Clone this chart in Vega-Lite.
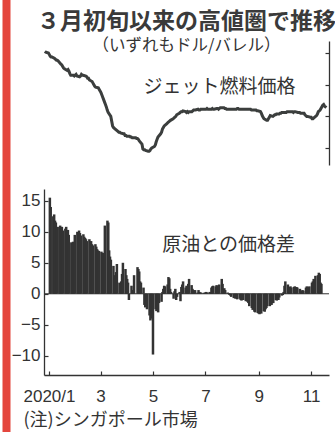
{
  "$schema": "https://vega.github.io/schema/vega-lite/v6.json",
  "background": "white",
  "padding": {"left": 2, "top": 0, "right": 0, "bottom": 0},
  "config": {
    "view": {"stroke": null},
    "axis": {"grid": false, "domainColor": "#333", "tickColor": "#333", "labelColor": "#333", "labelFont": "Liberation Sans", "labelFontSize": 17, "domainWidth": 1.3, "tickWidth": 1.2, "labelOverlap": false},
    "title": {"font": "Noto Sans CJK JP", "color": "#3a3a3a"}
  },
  "data": {"values": [
    {"d":"2020-01-02","j":81,"s":15.5},{"d":"2020-01-03","j":80.5,"s":14},
    {"d":"2020-01-06","j":80,"s":12.5},{"d":"2020-01-07","j":79,"s":12.8},{"d":"2020-01-08","j":78,"s":11.8},{"d":"2020-01-09","j":77.5,"s":11.5},{"d":"2020-01-10","j":77.5,"s":10.8},
    {"d":"2020-01-13","j":76.5,"s":10.8},{"d":"2020-01-14","j":76,"s":11},{"d":"2020-01-15","j":75.5,"s":10.5},{"d":"2020-01-16","j":75.5,"s":10.8},{"d":"2020-01-17","j":75,"s":10.2},
    {"d":"2020-01-20","j":73,"s":10.5},{"d":"2020-01-21","j":72.5,"s":10.8},{"d":"2020-01-22","j":71.5,"s":10},{"d":"2020-01-23","j":70.5,"s":10.3},{"d":"2020-01-24","j":70,"s":9.5},
    {"d":"2020-01-27","j":69,"s":8.3},{"d":"2020-01-28","j":69.5,"s":8},{"d":"2020-01-29","j":68.5,"s":8.4},{"d":"2020-01-30","j":67,"s":8.2},{"d":"2020-01-31","j":66,"s":9.5},
    {"d":"2020-02-03","j":66,"s":10},{"d":"2020-02-04","j":65.5,"s":9.6},{"d":"2020-02-05","j":66,"s":10.2},{"d":"2020-02-06","j":66.5,"s":9.8},{"d":"2020-02-07","j":65.5,"s":9.4},
    {"d":"2020-02-10","j":65,"s":9.6},{"d":"2020-02-11","j":65.5,"s":9.2},{"d":"2020-02-12","j":66.5,"s":9},{"d":"2020-02-13","j":66,"s":8.8},{"d":"2020-02-14","j":66,"s":8.5},
    {"d":"2020-02-17","j":65.5,"s":8.8},{"d":"2020-02-18","j":65,"s":8.3},{"d":"2020-02-19","j":64,"s":8.5},{"d":"2020-02-20","j":64,"s":8},{"d":"2020-02-21","j":63,"s":7.8},
    {"d":"2020-02-24","j":62,"s":8},{"d":"2020-02-25","j":61,"s":7.6},{"d":"2020-02-26","j":60,"s":7.2},{"d":"2020-02-27","j":59,"s":7},{"d":"2020-02-28","j":58.5,"s":6.9},
    {"d":"2020-03-02","j":58,"s":6.8},{"d":"2020-03-03","j":57,"s":6.6},{"d":"2020-03-04","j":56,"s":6.5},{"d":"2020-03-05","j":55,"s":6.6},{"d":"2020-03-06","j":53.5,"s":11},
    {"d":"2020-03-09","j":49,"s":11.8},{"d":"2020-03-10","j":47.5,"s":11.5},{"d":"2020-03-11","j":46,"s":7},{"d":"2020-03-12","j":44,"s":6},{"d":"2020-03-13","j":42.5,"s":5.5},
    {"d":"2020-03-16","j":40,"s":4.5},{"d":"2020-03-17","j":37,"s":3},{"d":"2020-03-18","j":34,"s":2.5},{"d":"2020-03-19","j":33,"s":3.5},{"d":"2020-03-20","j":32.5,"s":4.8},
    {"d":"2020-03-23","j":31,"s":1.8},{"d":"2020-03-24","j":30.5,"s":1.5},{"d":"2020-03-25","j":30,"s":2},{"d":"2020-03-26","j":30,"s":3.2},{"d":"2020-03-27","j":29.5,"s":5},
    {"d":"2020-03-30","j":29,"s":4},{"d":"2020-03-31","j":29,"s":3},
    {"d":"2020-04-01","j":28,"s":2.4},{"d":"2020-04-02","j":28,"s":1.8},{"d":"2020-04-03","j":27.5,"s":-1},
    {"d":"2020-04-06","j":27.5,"s":1.3},{"d":"2020-04-07","j":27,"s":0.6},{"d":"2020-04-08","j":27,"s":0.5},{"d":"2020-04-09","j":26.5,"s":3},
    {"d":"2020-04-13","j":26.5,"s":4.3},{"d":"2020-04-14","j":26,"s":4},{"d":"2020-04-15","j":26,"s":3.6},{"d":"2020-04-16","j":25.5,"s":2},{"d":"2020-04-17","j":24.5,"s":1.8},
    {"d":"2020-04-20","j":22.5,"s":1},{"d":"2020-04-21","j":19.5,"s":-1.8},{"d":"2020-04-22","j":19,"s":-2.2},{"d":"2020-04-23","j":19,"s":-2},{"d":"2020-04-24","j":18.5,"s":-2.5},
    {"d":"2020-04-27","j":18,"s":-3.5},{"d":"2020-04-28","j":18,"s":-4.3},{"d":"2020-04-29","j":18.5,"s":-3.8},{"d":"2020-04-30","j":19.5,"s":-4},{"d":"2020-05-01","j":20,"s":-9.8},
    {"d":"2020-05-04","j":21,"s":-2.5},{"d":"2020-05-05","j":22,"s":-2.8},{"d":"2020-05-06","j":24,"s":-2},{"d":"2020-05-07","j":25.5,"s":-3},{"d":"2020-05-08","j":27,"s":-1.5},
    {"d":"2020-05-11","j":29,"s":-1.3},{"d":"2020-05-12","j":30,"s":0.3},{"d":"2020-05-13","j":32,"s":0.8},{"d":"2020-05-14","j":33,"s":1.3},{"d":"2020-05-15","j":34,"s":1.2},
    {"d":"2020-05-18","j":35.5,"s":1.5},{"d":"2020-05-19","j":36,"s":2.7},{"d":"2020-05-20","j":36.5,"s":2.5},{"d":"2020-05-21","j":37,"s":0.8},{"d":"2020-05-22","j":37.5,"s":0.3},
    {"d":"2020-05-25","j":38.5,"s":-0.8},{"d":"2020-05-26","j":39,"s":0.4},{"d":"2020-05-27","j":39.5,"s":0.8},{"d":"2020-05-28","j":40,"s":-1},{"d":"2020-05-29","j":41,"s":-0.5},
    {"d":"2020-06-01","j":42,"s":0.3},{"d":"2020-06-02","j":42.5,"s":-1.2},{"d":"2020-06-03","j":43,"s":1.1},{"d":"2020-06-04","j":43,"s":1.5},{"d":"2020-06-05","j":43.5,"s":2},
    {"d":"2020-06-08","j":43,"s":1},{"d":"2020-06-09","j":42.5,"s":1.3},{"d":"2020-06-10","j":43,"s":1.2},{"d":"2020-06-11","j":42.5,"s":1.6},{"d":"2020-06-12","j":43,"s":2.4},
    {"d":"2020-06-15","j":43,"s":1.4},{"d":"2020-06-16","j":43.5,"s":0.8},{"d":"2020-06-17","j":44,"s":0.6},{"d":"2020-06-18","j":44,"s":0.3},{"d":"2020-06-19","j":44,"s":0.6},
    {"d":"2020-06-22","j":44.5,"s":0.2},{"d":"2020-06-23","j":44,"s":0.6},{"d":"2020-06-24","j":44,"s":0.3},{"d":"2020-06-25","j":44.5,"s":0.2},{"d":"2020-06-26","j":44.5,"s":0.2},
    {"d":"2020-06-29","j":44.5,"s":0.1},{"d":"2020-06-30","j":44.5,"s":0.2},
    {"d":"2020-07-01","j":44.5,"s":0.2},{"d":"2020-07-02","j":45,"s":0.3},{"d":"2020-07-03","j":44.5,"s":0.2},
    {"d":"2020-07-06","j":44.5,"s":0.3},{"d":"2020-07-07","j":44.5,"s":0.2},{"d":"2020-07-08","j":45,"s":1},{"d":"2020-07-09","j":44.5,"s":1.2},{"d":"2020-07-10","j":44.5,"s":1.3},
    {"d":"2020-07-13","j":45,"s":1.2},{"d":"2020-07-14","j":45,"s":1.4},{"d":"2020-07-15","j":44.5,"s":1.1},{"d":"2020-07-16","j":45,"s":1.3},{"d":"2020-07-17","j":45.5,"s":1.5},
    {"d":"2020-07-20","j":45.5,"s":2.4},{"d":"2020-07-21","j":45.5,"s":1.6},{"d":"2020-07-22","j":45,"s":0.8},{"d":"2020-07-23","j":45,"s":0.9},{"d":"2020-07-24","j":44.5,"s":0.6},
    {"d":"2020-07-27","j":44.5,"s":0.2},{"d":"2020-07-28","j":44.5,"s":0.1},{"d":"2020-07-29","j":44.5,"s":-0.2},{"d":"2020-07-30","j":44.5,"s":-0.3},{"d":"2020-07-31","j":44.5,"s":-0.5},
    {"d":"2020-08-03","j":44.5,"s":-0.7},{"d":"2020-08-04","j":44.5,"s":-0.6},{"d":"2020-08-05","j":45,"s":-0.8},{"d":"2020-08-06","j":45,"s":-0.7},{"d":"2020-08-07","j":44.5,"s":-0.9},
    {"d":"2020-08-10","j":44.5,"s":-0.8},{"d":"2020-08-11","j":44.5,"s":-1},{"d":"2020-08-12","j":44.5,"s":-1.1},{"d":"2020-08-13","j":44.5,"s":-0.9},{"d":"2020-08-14","j":44.5,"s":-1},
    {"d":"2020-08-17","j":44.5,"s":-1.2},{"d":"2020-08-18","j":44.5,"s":-1},{"d":"2020-08-19","j":44.5,"s":-1.3},{"d":"2020-08-20","j":44.5,"s":-1.5},{"d":"2020-08-21","j":44,"s":-2},
    {"d":"2020-08-24","j":44,"s":-2.3},{"d":"2020-08-25","j":44,"s":-2.6},{"d":"2020-08-26","j":44,"s":-2.5},{"d":"2020-08-27","j":43.5,"s":-2.9},{"d":"2020-08-28","j":43.5,"s":-3},
    {"d":"2020-08-31","j":43,"s":-3.1},
    {"d":"2020-09-01","j":42,"s":-3.2},{"d":"2020-09-02","j":40.5,"s":-3.3},{"d":"2020-09-03","j":39.5,"s":-3},{"d":"2020-09-04","j":38.5,"s":-3.2},
    {"d":"2020-09-07","j":37.5,"s":-2.8},{"d":"2020-09-08","j":37.5,"s":-2.9},{"d":"2020-09-09","j":38.5,"s":-2.5},{"d":"2020-09-10","j":39.5,"s":-2.3},{"d":"2020-09-11","j":40.5,"s":-2},
    {"d":"2020-09-14","j":40,"s":-2},{"d":"2020-09-15","j":40.5,"s":-1.6},{"d":"2020-09-16","j":41,"s":-1.8},{"d":"2020-09-17","j":41,"s":-1.5},{"d":"2020-09-18","j":41.5,"s":-1.5},
    {"d":"2020-09-21","j":41.5,"s":-1},{"d":"2020-09-22","j":42,"s":-1.1},{"d":"2020-09-23","j":42,"s":-0.9},{"d":"2020-09-24","j":42.5,"s":-1},{"d":"2020-09-25","j":42.5,"s":-0.6},
    {"d":"2020-09-28","j":42.5,"s":-0.3},{"d":"2020-09-29","j":42.5,"s":-0.2},{"d":"2020-09-30","j":43,"s":0.3},
    {"d":"2020-10-01","j":43,"s":1.3},{"d":"2020-10-02","j":43,"s":2},
    {"d":"2020-10-05","j":43,"s":1.5},{"d":"2020-10-06","j":43,"s":1},{"d":"2020-10-07","j":42.5,"s":1.1},{"d":"2020-10-08","j":43,"s":1.2},{"d":"2020-10-09","j":43,"s":1},
    {"d":"2020-10-12","j":42.5,"s":1.1},{"d":"2020-10-13","j":42.5,"s":1.2},{"d":"2020-10-14","j":42.5,"s":1},{"d":"2020-10-15","j":42,"s":1.1},{"d":"2020-10-16","j":42,"s":1},
    {"d":"2020-10-19","j":42,"s":0.8},{"d":"2020-10-20","j":41,"s":0.5},{"d":"2020-10-21","j":40.5,"s":0.4},{"d":"2020-10-22","j":40,"s":0.6},{"d":"2020-10-23","j":40,"s":0.5},
    {"d":"2020-10-26","j":39.5,"s":1},{"d":"2020-10-27","j":39.5,"s":1.2},{"d":"2020-10-28","j":38.5,"s":1.1},{"d":"2020-10-29","j":38.5,"s":0.9},{"d":"2020-10-30","j":39,"s":1.2},
    {"d":"2020-11-02","j":40.5,"s":1.8},{"d":"2020-11-03","j":41.5,"s":2},{"d":"2020-11-04","j":43,"s":2.4},{"d":"2020-11-05","j":43.5,"s":2.2},{"d":"2020-11-06","j":44,"s":2.9},
    {"d":"2020-11-09","j":47,"s":3},{"d":"2020-11-10","j":47.5,"s":3.4},{"d":"2020-11-11","j":46.5,"s":3.2},{"d":"2020-11-12","j":46,"s":1.8},{"d":"2020-11-13","j":45.5,"s":1.6}
  ]},
  "spacing": 1,
  "hconcat": [
    {
      "width": 8, "height": 389,
      "data": {"values": [{"v": 0.5}]},
      "mark": {"type": "rule", "opacity": 0},
      "encoding": {
        "y": {"field": "v", "type": "quantitative",
          "scale": {"domain": [0, 1], "range": [420, -43], "nice": false, "zero": false},
          "axis": {"orient": "left", "offset": -4, "domainColor": "#e4463d", "domainWidth": 8, "domainCap": "butt", "ticks": false, "labels": false, "title": null}}
      }
    },
    {
      "spacing": 24,
      "vconcat": [
        {
          "width": 285, "height": 124,
          "title": {
            "text": ["", "３月初旬以来の高値圏で推移"],
            "lineHeight": 10,
            "subtitle": "（いずれもドル/バレル）",
            "anchor": "middle", "frame": "group",
            "fontSize": 23, "fontWeight": "bold",
            "subtitleFont": "Noto Sans CJK JP", "subtitleFontSize": 16.5, "subtitleColor": "#333",
            "subtitlePadding": 4, "offset": -13
          },
          "layer": [
            {
              "mark": {"type": "line", "color": "#3b3e3d", "strokeWidth": 3},
              "encoding": {
                "x": {"field": "d", "type": "temporal", "scale": {"domain": [{"year": 2020, "month": 1, "date": 1}, {"year": 2020, "month": 11, "date": 16}]}, "axis": null},
                "y": {"field": "j", "type": "quantitative", "scale": {"domain": [9.3, 87.6], "nice": false, "zero": false},
                  "axis": {"orient": "right", "values": [20, 40, 60, 80], "tickCount": 4, "labels": false, "title": null, "tickSize": -4}}
              }
            },
            {
              "data": {"values": [{}]},
              "mark": {"type": "text", "text": "ジェット燃料価格", "font": "Noto Sans CJK JP", "fontSize": 19, "color": "#333"},
              "encoding": {
                "x": {"datum": {"year": 2020, "month": 7, "date": 16}, "type": "temporal", "axis": null},
                "y": {"datum": 58.5, "type": "quantitative", "axis": {"orient": "right", "values": [20, 40, 60, 80], "tickCount": 4, "labels": false, "title": null, "tickSize": -4}}
              }
            }
          ]
        },
        {
          "width": 285, "height": 186,
          "layer": [
            {
              "mark": {"type": "bar", "color": "#333", "size": 2.5},
              "encoding": {
                "x": {"field": "d", "type": "temporal", "scale": {"domain": [{"year": 2020, "month": 1, "date": 1}, {"year": 2020, "month": 11, "date": 16}]},
                  "axis": {"values": [{"year": 2020, "month": 1, "date": 1}, {"year": 2020, "month": 3, "date": 1}, {"year": 2020, "month": 5, "date": 1}, {"year": 2020, "month": 7, "date": 1}, {"year": 2020, "month": 9, "date": 1}, {"year": 2020, "month": 11, "date": 1}],
                    "labelExpr": "month(datum.value) == 0 ? '2020/1' : '' + (month(datum.value) + 1)",
                    "tickSize": -4, "labelPadding": 17,
                    "title": "(注)シンガポール市場", "titleFont": "Noto Sans CJK JP", "titleFontSize": 18, "titleFontWeight": "normal", "titleColor": "#333",
                    "titleAnchor": "start", "titleAlign": "left", "titleBaseline": "middle", "titleX": -21, "titleY": 45}},
                "y": {"field": "s", "type": "quantitative", "scale": {"domain": [-13.1, 16.9], "nice": false, "zero": false},
                  "axis": {"values": [-10, -5, 0, 5, 10, 15], "tickCount": 7, "labelOverlap": false, "title": null, "tickSize": -4, "labelPadding": 8}}
              }
            },
            {
              "data": {"values": [{}]},
              "mark": {"type": "rule", "color": "#333", "strokeWidth": 1},
              "encoding": {"y": {"datum": 0, "type": "quantitative", "axis": {"values": [-10, -5, 0, 5, 10, 15], "tickCount": 7, "labelOverlap": false, "title": null, "tickSize": -4, "labelPadding": 8}}}
            },
            {
              "data": {"values": [{}]},
              "mark": {"type": "text", "text": "原油との価格差", "font": "Noto Sans CJK JP", "fontSize": 19, "color": "#333"},
              "encoding": {
                "x": {"datum": {"year": 2020, "month": 7, "date": 28}, "type": "temporal"},
                "y": {"datum": 7.9, "type": "quantitative", "axis": {"values": [-10, -5, 0, 5, 10, 15], "tickCount": 7, "labelOverlap": false, "title": null, "tickSize": -4, "labelPadding": 8}}
              }
            }
          ]
        }
      ]
    }
  ]
}
